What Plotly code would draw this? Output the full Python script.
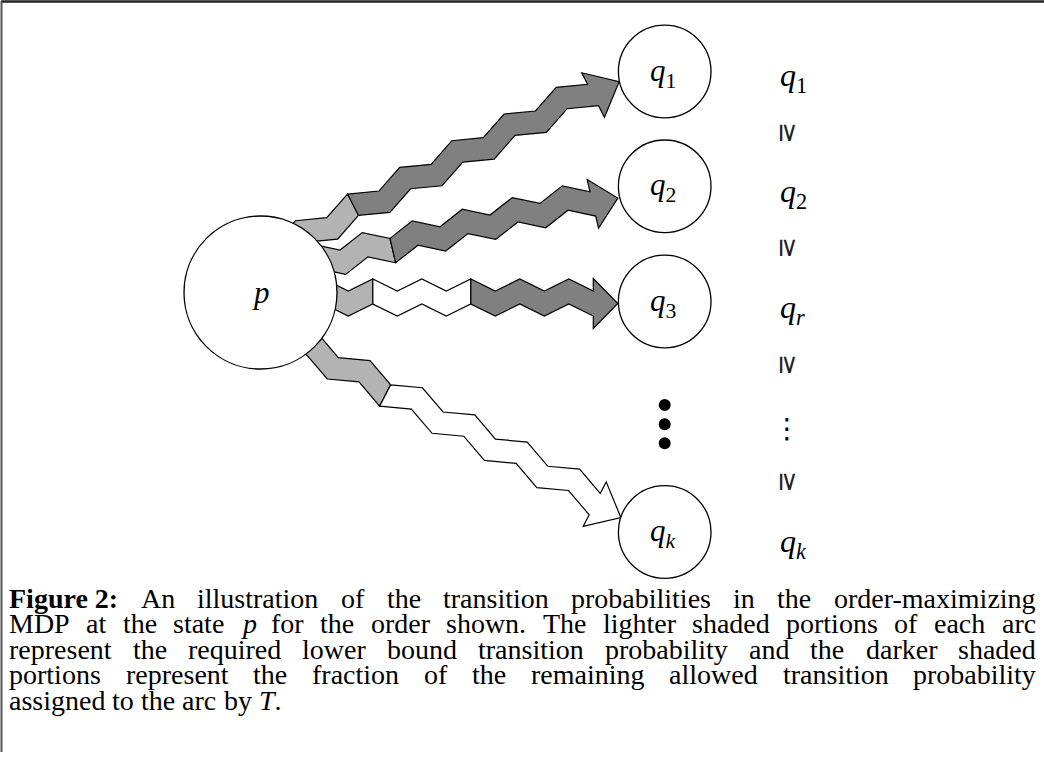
import math
import plotly.graph_objects as go

# ---------------- data ----------------
arc_targets = ["q1", "q2", "q3", "qk"]
# share of each arc (shaft length) that is the required lower bound (light)
lower_bound = [0.143, 0.238, 0.143, 0.238]
# share of each arc assigned by T (dark); the rest stays white
assigned = [0.857, 0.762, 0.476, 0.0]
state_labels = ["<i>q</i><sub>1</sub>", "<i>q</i><sub>2</sub>",
                "<i>q</i><sub>3</sub>", "<i>q</i><sub><i>k</i></sub>"]
order_labels = ["<i>q</i><sub>1</sub>", "<i>q</i><sub>2</sub>",
                "<i>q</i><sub><i>r</i></sub>", "⋮", "<i>q</i><sub><i>k</i></sub>"]
source_label = "<i>p</i>"
caption_lines = [
    [[("Figure 2:", "b")], "An", "illustration", "of", "the", "transition",
     "probabilities", "in", "the", "order-maximizing"],
    ["MDP", "at", "the", "state", [("p", "i")], "for", "the", "order", "shown.", "The",
     "lighter", "shaded", "portions", "of", "each", "arc"],
    ["represent", "the", "required", "lower", "bound", "transition", "probability",
     "and", "the", "darker", "shaded"],
    ["portions", "represent", "the", "fraction", "of", "the", "remaining", "allowed",
     "transition", "probability"],
    ["assigned", "to", "the", "arc", "by", [("T", "i"), (".", "r")]],
]

# ---------------- layout geometry ----------------
WIDTH, HEIGHT = 1044, 765
P_C, P_R = (260.5, 292.5), 76.5
Q_X, Q_R = 664.7, 46.3
Q_Y = [71.5, 186.3, 301.5, 532.0]
ARROWS = [
    dict(origin=(329.56, 223.24), angle=-27.08, half=29.3, amp=5.8, width=24.0),
    dict(origin=(341.5, 256.4), angle=-13.13, half=25.67, amp=6.0, width=25.0),
    dict(origin=(348.3, 297.5), angle=0.0, half=24.5, amp=6.0, width=25.0),
    dict(origin=(335.56, 363.0), angle=27.4, half=29.5, amp=6.0, width=24.0),
]
N_HALF = 10          # zig-zag half periods up to the arrow head
HEAD_HALF = 25.0
LIGHT, DARK, EDGE = "#b3b3b3", "#808080", "#000000"
SERIF = "Liberation Serif"


def wave_v(u, h, a):
    k = math.floor(u / h)
    t = u / h - k
    v0 = a if k % 2 == 0 else -a
    return v0 + (-v0 - v0) * t


def frame(g):
    ang = math.radians(g["angle"])
    ux, uy = math.cos(ang), math.sin(ang)
    return ux, uy, -uy, ux


def pt(g, u, off):
    ux, uy, vx, vy = frame(g)
    v = wave_v(u, g["half"], g["amp"]) + off
    ox, oy = g["origin"]
    return (ox + u * ux + v * vx, oy + u * uy + v * vy)


def edge(g, ua, ub, off):
    h = g["half"]
    us = [ua]
    k = math.floor(ua / h) + 1
    while k * h < ub - 1e-6:
        if k * h > ua + 1e-6:
            us.append(k * h)
        k += 1
    us.append(ub)
    return [pt(g, u, off) for u in us]


def seg_path(g, ua, ub, head=False):
    w = g["width"] / 2
    top = edge(g, ua, ub, -w)
    bot = edge(g, ua, ub, w)[::-1]
    pts = list(top)
    if head:
        ux, uy, vx, vy = frame(g)
        cx, cy = pt(g, ub, 0)
        pts += [(cx - HEAD_HALF * vx, cy - HEAD_HALF * vy),
                (cx + g["half"] * ux, cy + g["half"] * uy),
                (cx + HEAD_HALF * vx, cy + HEAD_HALF * vy)]
    pts += bot
    return "M " + " L ".join(f"{x:.2f},{y:.2f}" for x, y in pts) + " Z"


shapes = []
for g, lo, hi in zip(ARROWS, lower_bound, assigned):
    h = g["half"]
    u_start, u0, u_end = -2 * h, -0.5 * h, N_HALF * h
    L = u_end - u0
    light_end = u0 + lo * L
    dark_start = u_end - hi * L
    parts = [(u_start, light_end, LIGHT)]
    if dark_start - light_end > 0.5:
        parts.append((light_end, dark_start, "#ffffff"))
    if u_end - dark_start > 0.5:
        parts.append((dark_start, u_end, DARK))
    for i, (a, b, col) in enumerate(parts):
        shapes.append(dict(type="path", path=seg_path(g, a, b, head=(i == len(parts) - 1)),
                           fillcolor=col, line=dict(color=EDGE, width=1.2),
                           xref="x", yref="y", layer="above"))

# circles
shapes.append(dict(type="circle", xref="x", yref="y", x0=P_C[0] - P_R, x1=P_C[0] + P_R,
                   y0=P_C[1] - P_R, y1=P_C[1] + P_R, fillcolor="white",
                   line=dict(color=EDGE, width=1.3), layer="above"))
for qy in Q_Y:
    shapes.append(dict(type="circle", xref="x", yref="y", x0=Q_X - Q_R, x1=Q_X + Q_R,
                       y0=qy - Q_R, y1=qy + Q_R, fillcolor="white",
                       line=dict(color=EDGE, width=1.3), layer="above"))
# ellipsis dots between q3 and qk
for dy in [405.0, 424.3, 443.3]:
    shapes.append(dict(type="circle", xref="x", yref="y", x0=Q_X - 6, x1=Q_X + 6,
                       y0=dy - 6, y1=dy + 6, fillcolor="black", line=dict(width=0),
                       layer="above"))
# frame lines
shapes.append(dict(type="line", xref="x", yref="y", x0=1, x1=WIDTH, y0=1.5, y1=1.5,
                   line=dict(color="#222222", width=2.5)))
shapes.append(dict(type="line", xref="x", yref="y", x0=1.5, x1=1.5, y0=1, y1=752,
                   line=dict(color="#555555", width=2)))

annotations = []
annotations.append(dict(x=P_C[0], y=P_C[1], text=source_label, showarrow=False,
                        font=dict(family=SERIF, size=31, color="black"),
                        xanchor="center", yanchor="middle"))
for qy, lab in zip(Q_Y, state_labels):
    annotations.append(dict(x=Q_X - 2, y=qy + 1, text=lab, showarrow=False,
                            font=dict(family=SERIF, size=31, color="black"),
                            xanchor="center", yanchor="middle"))

ORDER_Y = [77, 193, 309, 428, 543]
for oy, lab in zip(ORDER_Y, order_labels):
    is_dots = lab == "⋮"
    annotations.append(dict(x=778 if not is_dots else 787, y=oy, text=lab, showarrow=False,
                            font=dict(family=SERIF if not is_dots else "DejaVu Sans",
                                      size=32 if not is_dots else 28, color="black"),
                            xanchor="left" if not is_dots else "center", yanchor="middle"))
for gy in [133, 248, 365, 482]:
    annotations.append(dict(x=789, y=gy, text="≥", textangle=90, showarrow=False,
                            font=dict(family="DejaVu Sans", size=26, color="#222222"),
                            xanchor="center", yanchor="middle"))

# ---------------- caption (justified, one text per word) ----------------
ROMAN = dict(zip("abcdefghijklmnopqrstuvwxyz",
                 [444, 500, 444, 500, 444, 333, 500, 500, 278, 278, 500, 278, 778,
                  500, 500, 500, 500, 333, 389, 278, 500, 500, 722, 500, 500, 444]))
ROMAN.update({"A": 722, "D": 722, "M": 889, "P": 556, "T": 611, ".": 250, "-": 333,
              ":": 278, " ": 250, "2": 500})
BOLD = {"F": 611, "i": 278, "g": 500, "u": 556, "r": 444, "e": 444, " ": 250, "2": 500,
        ":": 333}
ITALIC = {"p": 500, "T": 556}
METRICS = {"r": ROMAN, "b": BOLD, "i": ITALIC}
CAP_SIZE = 28
CAP_LEFT, CAP_RIGHT = 8, 1035
CAP_Y = [598, 623.5, 649, 674.5, 700]


def runs_of(word):
    return [(word, "r")] if isinstance(word, str) else word


def width_of(word):
    return sum(METRICS[s].get(ch, 500) for t, s in runs_of(word) for ch in t) * CAP_SIZE / 1000


def html_of(word):
    out = ""
    for t, s in runs_of(word):
        out += f"<b>{t}</b>" if s == "b" else (f"<i>{t}</i>" if s == "i" else t)
    return out


for li, (words, cy) in enumerate(zip(caption_lines, CAP_Y)):
    widths = [width_of(w) for w in words]
    if li == len(caption_lines) - 1:
        gap = 250 * CAP_SIZE / 1000
    else:
        gap = (CAP_RIGHT - CAP_LEFT - sum(widths)) / (len(words) - 1)
    x = CAP_LEFT
    for w, wd in zip(words, widths):
        annotations.append(dict(x=x, y=cy, text=html_of(w), showarrow=False,
                                font=dict(family=SERIF, size=CAP_SIZE, color="black"),
                                xanchor="left", yanchor="middle", borderpad=0))
        x += wd + gap

fig = go.Figure()
fig.add_trace(go.Scatter(x=[P_C[0]] + [Q_X] * len(Q_Y), y=[P_C[1]] + Q_Y, mode="markers",
                         marker=dict(opacity=0), hoverinfo="skip", showlegend=False))
fig.update_layout(
    width=WIDTH, height=HEIGHT, margin=dict(l=0, r=0, t=0, b=0),
    paper_bgcolor="white", plot_bgcolor="white",
    xaxis=dict(range=[0, WIDTH], visible=False, fixedrange=True),
    yaxis=dict(range=[HEIGHT, 0], visible=False, fixedrange=True),
    shapes=shapes, annotations=annotations, showlegend=False,
)
fig.write_html("out.html", config={"displayModeBar": False},
               post_script="document.body.style.margin='0px';document.body.style.overflow='hidden';")
